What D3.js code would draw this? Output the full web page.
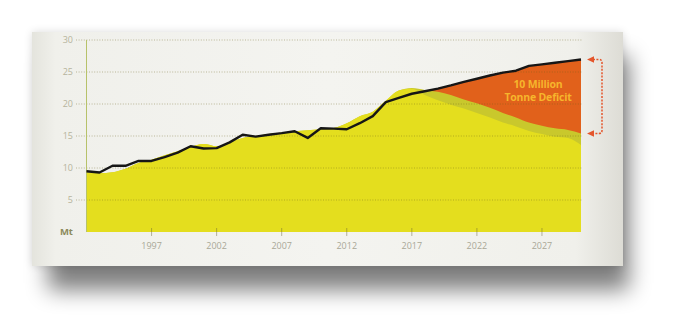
<!DOCTYPE html>
<html>
<head>
<meta charset="utf-8">
<script src="https://cdn.jsdelivr.net/npm/d3@7"></script>
<style>
  html, body { margin: 0; padding: 0; background: #fff; }
  svg { display: block; }
</style>
</head>
<body>
<div id="chart"></div>
<script>
// years on the x axis
const years = d3.range(1992, 2031);

// demand (black line), Mt
const demand = [9.5, 9.3, 10.35, 10.35, 11.1, 11.1, 11.7, 12.4, 13.4, 13.05,
    13.1, 14.0, 15.2, 14.9, 15.2, 15.45, 15.75, 14.7, 16.2, 16.15,
    16.05, 17.0, 18.1, 20.3, 20.95, 21.6, 22.0, 22.4, 22.9, 23.45,
    23.95, 24.45, 24.9, 25.2, 25.95, 26.2, 26.45, 26.7, 26.95];

// total supply (top of olive band), Mt
const supply = [9.35, 9.2, 9.35, 9.9, 10.8, 11.3, 12.0, 12.6, 13.3, 13.75,
    13.4, 14.0, 14.7, 15.0, 15.3, 15.5, 15.75, 15.9, 16.05, 16.25,
    17.0, 18.1, 18.8, 20.5, 22.1, 22.5, 22.2, 21.9, 21.4, 20.7,
    20.1, 19.4, 18.6, 17.9, 17.1, 16.6, 16.2, 15.95, 15.4];

// existing supply (bright yellow), Mt
const existing = [9.35, 9.2, 9.35, 9.9, 10.8, 11.3, 12.0, 12.6, 13.3, 13.75,
    13.4, 14.0, 14.7, 15.0, 15.3, 15.5, 15.75, 15.9, 16.05, 16.25,
    17.0, 18.1, 18.8, 20.5, 22.1, 22.4, 21.4, 20.6, 19.9, 19.3,
    18.6, 17.9, 17.1, 16.5, 15.8, 15.3, 14.9, 14.7, 13.6];

const deficitStart = 2018;
const xTicks = [1997, 2002, 2007, 2012, 2017, 2022, 2027];
const yTicks = [5, 10, 15, 20, 25, 30];
const annotationLines = ["10 Million", "Tonne Deficit"];

const width = 688;
const height = 332;

const rows = years.map((yr, i) => ({
    year: yr, demand: demand[i], supply: supply[i], existing: existing[i]
}));

const svg = d3.select("#chart").append("svg")
    .attr("width", width)
    .attr("height", height);

const defs = svg.append("defs");

const shadow = defs.append("filter")
    .attr("id", "shadow")
    .attr("x", "-20%").attr("y", "-30%")
    .attr("width", "140%").attr("height", "170%");
shadow.append("feGaussianBlur").attr("stdDeviation", 11);

const glow = defs.append("filter")
    .attr("id", "glow")
    .attr("x", "-10%").attr("y", "-10%")
    .attr("width", "120%").attr("height", "120%");
glow.append("feGaussianBlur").attr("stdDeviation", 4);

const cardGrad = defs.append("linearGradient").attr("id", "card-grad");
[[0, "#e4e4dd"], [0.04, "#f0f0eb"], [0.5, "#f4f4f0"], [0.92, "#f0f0eb"], [1, "#dddcd5"]]
    .forEach(([o, c]) => cardGrad.append("stop").attr("offset", o).attr("stop-color", c));

// card + shadow
const card = { x: 32, y: 32, w: 591, h: 234 };
svg.append("rect")
    .attr("x", card.x + 16).attr("y", card.y + 24)
    .attr("width", card.w - 10).attr("height", card.h)
    .attr("fill", "#000").attr("opacity", 0.5)
    .attr("filter", "url(#shadow)");
svg.append("rect")
    .attr("x", card.x).attr("y", card.y)
    .attr("width", card.w).attr("height", card.h)
    .attr("fill", "#000").attr("opacity", 0.14)
    .attr("filter", "url(#glow)");
svg.append("rect")
    .attr("x", card.x).attr("y", card.y)
    .attr("width", card.w).attr("height", card.h)
    .attr("fill", "url(#card-grad)");

const x = d3.scaleLinear().domain([1992, 2030]).range([86.5, 581]);
const y = d3.scaleLinear().domain([0, 30]).range([232, 40]);

// deficit (orange) sits behind the supply areas
svg.append("path")
    .datum(rows.filter(d => d.year >= deficitStart))
    .attr("fill", "#e1611b")
    .attr("d", d3.area().x(d => x(d.year)).y0(y(0)).y1(d => y(d.demand)));

svg.append("path")
    .datum(rows)
    .attr("fill", "#c9c82c")
    .attr("d", d3.area().curve(d3.curveMonotoneX)
        .x(d => x(d.year)).y0(y(0)).y1(d => y(d.supply)));

svg.append("path")
    .datum(rows)
    .attr("fill", "#e4de1e")
    .attr("d", d3.area().curve(d3.curveMonotoneX)
        .x(d => x(d.year)).y0(y(0)).y1(d => y(d.existing)));

// dotted gridlines
svg.append("g")
    .selectAll("line")
    .data(yTicks)
    .join("line")
    .attr("x1", 76).attr("x2", x(2030) + 1)
    .attr("y1", d => y(d)).attr("y2", d => y(d))
    .attr("stroke", "rgba(105,98,25,0.4)")
    .attr("stroke-width", 1)
    .attr("stroke-dasharray", "1,1.6");

svg.append("g")
    .selectAll("text")
    .data(yTicks)
    .join("text")
    .attr("x", 73)
    .attr("y", d => y(d))
    .attr("dy", "0.35em")
    .attr("text-anchor", "end")
    .attr("font-family", "Open Sans, sans-serif")
    .attr("font-size", "9px")
    .attr("fill", "#b6b49c")
    .text(d => d);

svg.append("text")
    .attr("x", 73).attr("y", y(0))
    .attr("dy", "0.35em")
    .attr("text-anchor", "end")
    .attr("font-family", "Open Sans, sans-serif")
    .attr("font-weight", "bold")
    .attr("font-size", "9.5px")
    .attr("fill", "#8c8a5c")
    .text("Mt");

// y axis line
svg.append("line")
    .attr("x1", x(1992)).attr("x2", x(1992))
    .attr("y1", y(30)).attr("y2", y(0))
    .attr("stroke", "#b7c26a")
    .attr("stroke-width", 1);

// x ticks
const xAxis = svg.append("g");
xAxis.selectAll("line")
    .data(xTicks)
    .join("line")
    .attr("x1", d => x(d)).attr("x2", d => x(d))
    .attr("y1", y(0) - 4).attr("y2", y(0) + 4)
    .attr("stroke", "rgba(100,95,50,0.45)")
    .attr("stroke-width", 1);
xAxis.selectAll("text")
    .data(xTicks)
    .join("text")
    .attr("x", d => x(d))
    .attr("y", 246)
    .attr("dy", "0.35em")
    .attr("text-anchor", "middle")
    .attr("font-family", "Open Sans, sans-serif")
    .attr("font-size", "9px")
    .attr("fill", "#a9a897")
    .text(d => d);

// demand line
svg.append("path")
    .datum(rows)
    .attr("fill", "none")
    .attr("stroke", "#161616")
    .attr("stroke-width", 2.4)
    .attr("stroke-linejoin", "round")
    .attr("d", d3.line().x(d => x(d.year)).y(d => y(d.demand)));

// annotation
svg.append("text")
    .attr("x", 538).attr("y", 84)
    .attr("text-anchor", "middle")
    .attr("font-family", "Open Sans, sans-serif")
    .attr("font-weight", "bold")
    .attr("font-size", "10.5px")
    .attr("letter-spacing", "-0.2px")
    .attr("fill", "#f6b52c")
    .selectAll("tspan")
    .data(annotationLines)
    .join("tspan")
    .attr("x", 538)
    .attr("dy", (d, i) => i === 0 ? "0.35em" : "1.25em")
    .text(d => d);

// dotted bracket arrow
const last = rows[rows.length - 1];
const yTop = y(last.demand), yBot = y(last.supply);
const ax = 602;
svg.append("path")
    .attr("fill", "none")
    .attr("stroke", "#e4562c")
    .attr("stroke-width", 1.5)
    .attr("stroke-dasharray", "2,1.4")
    .attr("d", `M${ax - 9},${yTop} H${ax - 3} Q${ax},${yTop} ${ax},${yTop + 3} V${yBot - 3} Q${ax},${yBot} ${ax - 3},${yBot} H${ax - 9}`);
[yTop, yBot].forEach(v => {
    svg.append("path")
        .attr("fill", "#e4562c")
        .attr("d", `M${ax - 15},${v} L${ax - 8},${v - 3.2} L${ax - 8},${v + 3.2} Z`);
});
</script>
</body>
</html>
